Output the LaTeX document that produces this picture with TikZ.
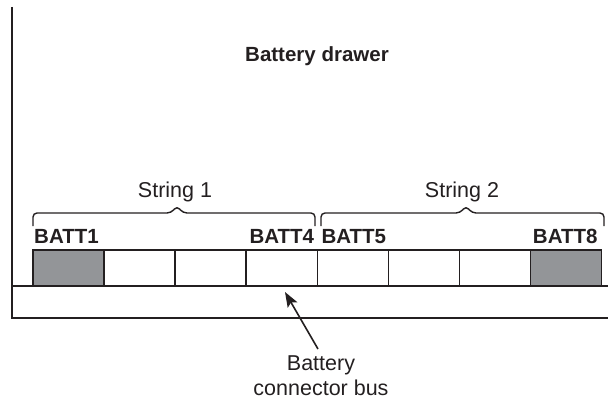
\documentclass[tikz,border=0pt]{standalone}
\usepackage{fontspec}
\setmainfont{Liberation Sans}
\usetikzlibrary{arrows.meta}
\definecolor{ink}{HTML}{231F20}
\definecolor{battgray}{HTML}{939598}
\tikzset{
  ink/.style={draw=ink, line width=1.6pt},
  cell/.style={draw=ink, line width=1.5pt, minimum width=71pt, minimum height=36pt, inner sep=0pt, outer sep=0pt, anchor=north west},
  grey/.style={fill=battgray},
  blabel/.style={font=\fontsize{20.5}{22}\selectfont\bfseries, text=ink, inner sep=0pt},
  rlabel/.style={font=\fontsize{21.5}{25}\selectfont, text=ink, inner sep=0pt},
  brace/.style={draw=ink, line width=1.4pt, rounded corners=4pt}
}
\begin{document}
\begin{tikzpicture}[x=1pt, y=-1pt]
\useasboundingbox (0,0) rectangle (608,404);
% drawer outline
\coordinate (top) at (12,7);
\coordinate (bl) at (12,318);
\coordinate (bt) at (12,286);
\coordinate (brt) at (608,286);
\coordinate (brb) at (608,318);
\draw[ink] (top) -- (bl) -- (brb);
\draw[ink] (bt) -- (brt);
% battery cells
\foreach \i/\s in {1/grey,2/,3/,4/,5/,6/,7/,8/grey} {
  \node[cell,\s] (b\i) at ({33+(\i-1)*71.1},250) {};
}
% labels
\node[blabel, anchor=base] (title) at (317,62) {Battery drawer};
\node[blabel, anchor=base west] (l1) at (b1.north west) [yshift=7pt, xshift=1pt] {BATT1};
\node[blabel, anchor=base east] (l4) at (b4.north east) [yshift=7pt, xshift=-3pt] {BATT4};
\node[blabel, anchor=base west] (l5) at (b5.north west) [yshift=7pt, xshift=4pt] {BATT5};
\node[blabel, anchor=base east] (l8) at (b8.north east) [yshift=7pt, xshift=-4pt] {BATT8};
% braces
\coordinate (s1a) at (33,226);
\coordinate (s1b) at (315,226);
\coordinate (s2a) at (321,226);
\coordinate (s2b) at (604,226);
\draw[brace] (s1a) -- (33,213) -- (171,213) -- (177,206) -- (183,213) -- (315,213) -- (s1b);
\draw[brace] (s2a) -- (321,213) -- (460,213) -- (466,206) -- (472,213) -- (604,213) -- (s2b);
\node[rlabel, anchor=base] (str1) at (175,197) {String 1};
\node[rlabel, anchor=base] (str2) at (462,197) {String 2};
% connector bus label and arrow
\node[rlabel, align=center, anchor=north] (bus) at (321,356) {Battery\\connector bus};
\coordinate (tip) at (285,292);
\draw[draw=ink, line width=1.6pt, -{Stealth[length=15pt, width=11pt, inset=3pt]}] (318,349) -- (tip);
\end{tikzpicture}
\end{document}
